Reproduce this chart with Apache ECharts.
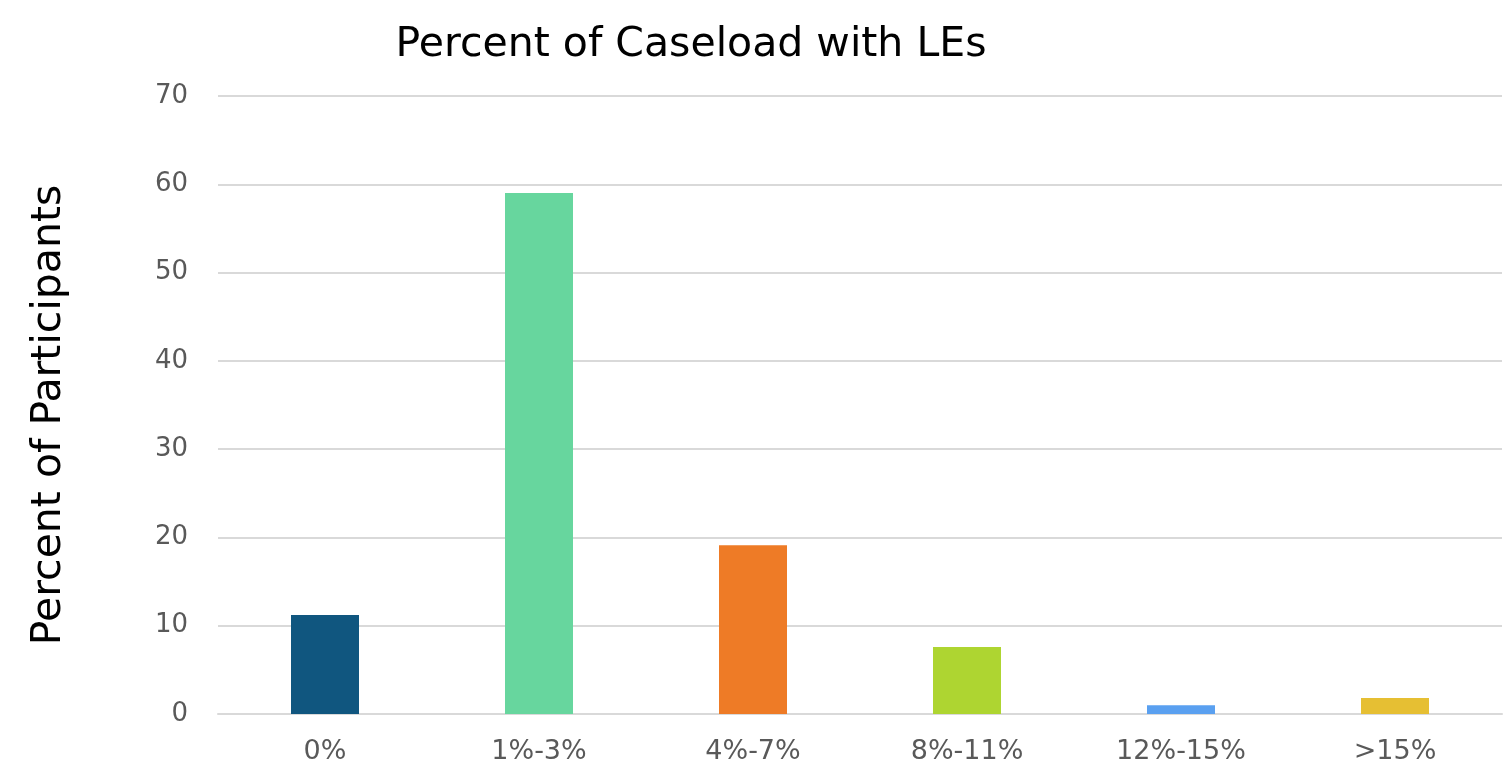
<!DOCTYPE html>
<html>
<head>
<meta charset="utf-8">
<script src="https://cdn.jsdelivr.net/npm/echarts@6/dist/echarts.min.js"></script>
<style>
  html, body { margin: 0; padding: 0; background: #fff; }
  #chart { width: 1503px; height: 772px; }
</style>
</head>
<body>
<div id="chart"></div>
<script>
// Share of participants by caseload percentage band
const categories = ['0%', '1%-3%', '4%-7%', '8%-11%', '12%-15%', '>15%'];
const values = [11.2, 59.0, 19.1, 7.6, 1.0, 1.8];
const barColors = ['#10567F', '#67D69E', '#EE7B26', '#AED531', '#5AA0F0', '#E6BF33'];
const yTicks = { min: 0, max: 70, interval: 10 };

const FONT = '"DejaVu Sans", sans-serif';

const chart = echarts.init(document.getElementById('chart'), null, { renderer: 'canvas' });
chart.setOption({
  animation: false,
  backgroundColor: '#ffffff',
  title: {
    text: 'Percent of Caseload with LEs',
    left: 686,
    textAlign: 'center',
    top: 20,
    textStyle: { fontFamily: FONT, fontSize: 41, fontWeight: 'normal', color: '#000000' }
  },
  grid: { left: 218, right: 1, top: 96, bottom: 58, containLabel: false },
  xAxis: {
    type: 'category',
    data: categories,
    axisLine: { show: true, lineStyle: { color: '#D9D9D9', width: 2 } },
    axisTick: { show: false },
    axisLabel: { fontFamily: FONT, fontSize: 27, color: '#595959', margin: 24 }
  },
  yAxis: {
    type: 'value',
    min: yTicks.min,
    max: yTicks.max,
    interval: yTicks.interval,
    name: 'Percent of Participants',
    nameLocation: 'middle',
    nameGap: 148,
    nameRotate: 90,
    nameTextStyle: { fontFamily: FONT, fontSize: 41, color: '#000000', padding: [0, 20, 0, 0] },
    axisLine: { show: false },
    axisTick: { show: false },
    axisLabel: { fontFamily: FONT, fontSize: 26, color: '#595959', margin: 30 },
    splitLine: { lineStyle: { color: '#D9D9D9', width: 2 } }
  },
  series: [{
    type: 'bar',
    barWidth: 68,
    data: values.map((v, i) => ({ value: v, itemStyle: { color: barColors[i] } }))
  }]
});
</script>
</body>
</html>
